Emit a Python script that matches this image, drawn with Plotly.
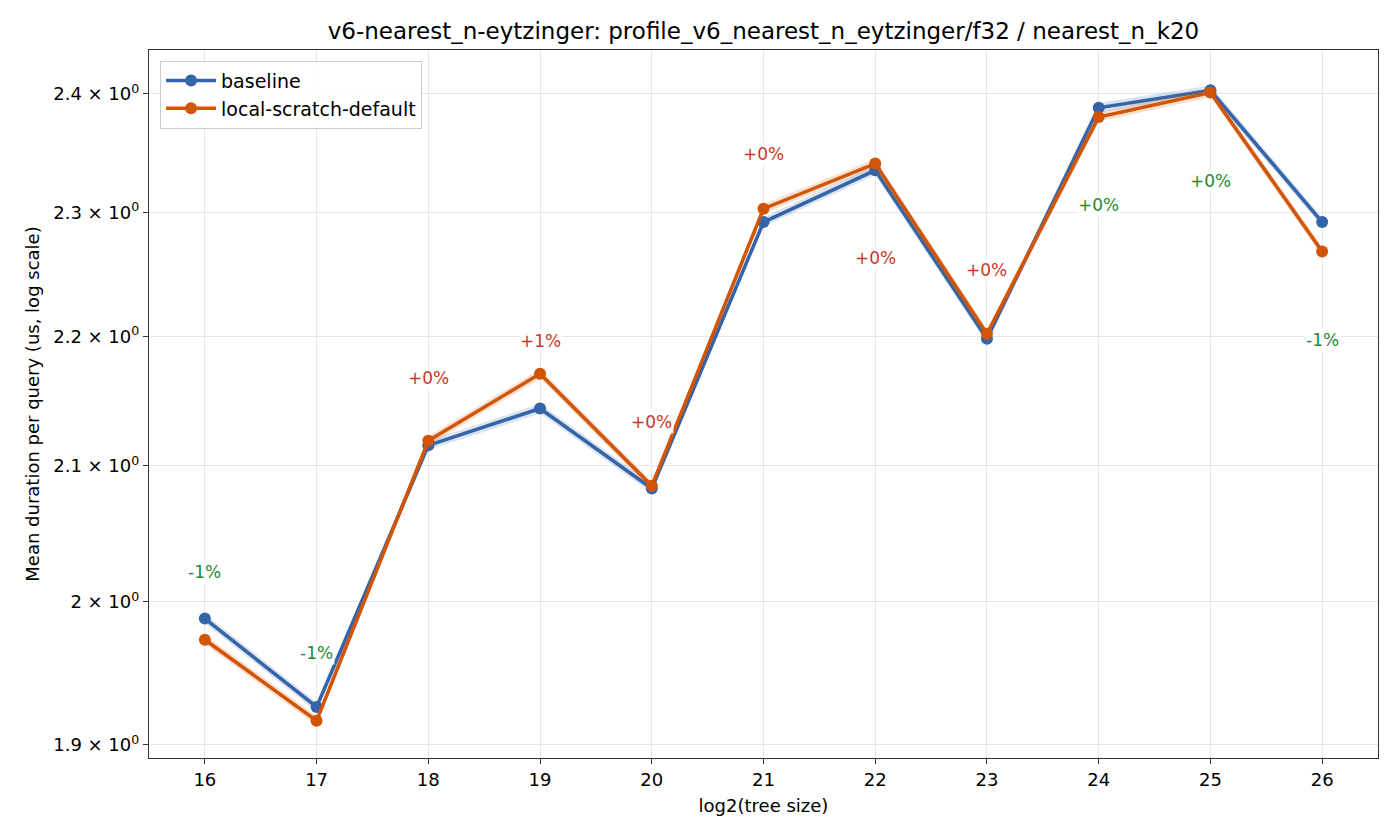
import math
import plotly.graph_objects as go

sizes = [16, 17, 18, 19, 20, 21, 22, 23, 24, 25, 26]
baseline = [1.988, 1.926, 2.1155, 2.1437, 2.083, 2.292, 2.335, 2.198, 2.388, 2.403, 2.292]
local = [1.973, 1.9165, 2.119, 2.1706, 2.085, 2.303, 2.3406, 2.202, 2.380, 2.401, 2.268]
band_frac = 0.0017
labels = ["-1%", "-1%", "+0%", "+1%", "+0%", "+0%", "+0%", "+0%", "+0%", "+0%", "-1%"]
label_colors = ["#1f8a35", "#1f8a35", "#c9362a", "#c9362a", "#c9362a", "#c9362a",
                "#c9362a", "#c9362a", "#1f8a35", "#1f8a35", "#1f8a35"]
label_y = [2.0217, 1.9633, 2.1676, 2.1966, 2.1337, 2.349, 2.263, 2.253, 2.3065, 2.326, 2.197]
ytick_vals = [1.9, 2.0, 2.1, 2.2, 2.3, 2.4]
ytick_text = ["1.9 × 10<sup>0</sup>", "2 × 10<sup>0</sup>", "2.1 × 10<sup>0</sup>",
              "2.2 × 10<sup>0</sup>", "2.3 × 10<sup>0</sup>", "2.4 × 10<sup>0</sup>"]

BLUE = "#3465a9"
ORANGE = "#d25405"

fig = go.Figure()

for name, vals, col, fillcol in [("baseline", baseline, BLUE, "rgba(52,101,169,0.18)"),
                                  ("local-scratch-default", local, ORANGE, "rgba(210,84,5,0.18)")]:
    lo = [v * (1 - band_frac) for v in vals]
    hi = [v * (1 + band_frac) for v in vals]
    fig.add_trace(go.Scatter(x=sizes, y=lo, mode="lines", line=dict(width=0, color=fillcol),
                             showlegend=False, hoverinfo="skip"))
    fig.add_trace(go.Scatter(x=sizes, y=hi, mode="lines", line=dict(width=0, color=fillcol),
                             fill="tonexty", fillcolor=fillcol, showlegend=False, hoverinfo="skip"))
    fig.add_trace(go.Scatter(x=sizes, y=vals, mode="lines+markers", name=name,
                             line=dict(color=col, width=3.5),
                             marker=dict(color=col, size=12)))

for x, t, c, y in zip(sizes, labels, label_colors, label_y):
    fig.add_annotation(x=x, y=math.log10(y), text=t, showarrow=False,
                       font=dict(color=c, size=17, family="DejaVu Sans"),
                       bgcolor="rgba(255,255,255,0.8)", borderpad=1)

fig.update_layout(
    width=1400, height=840,
    margin=dict(l=149, r=22, t=50, b=82),
    paper_bgcolor="white", plot_bgcolor="white",
    font=dict(family="DejaVu Sans", size=18, color="black"),
    title=dict(text="v6-nearest_n-eytzinger: profile_v6_nearest_n_eytzinger/f32 / nearest_n_k20",
               x=0.5, xref="paper", xanchor="center", y=0.963, yanchor="middle",
               font=dict(size=23, color="black")),
    legend=dict(x=0.009, y=0.985, xanchor="left", yanchor="top", traceorder="normal",
                bgcolor="rgba(255,255,255,0.9)", bordercolor="#cccccc", borderwidth=1,
                itemwidth=50, font=dict(size=19)),
    xaxis=dict(range=[15.5, 26.5], tickvals=sizes, ticktext=[str(s) for s in sizes],
               showgrid=True, gridcolor="#e6e6e6", gridwidth=1,
               showline=True, linecolor="#333333", linewidth=1.2, mirror=True,
               ticks="outside", ticklen=5, tickcolor="#333333",
               tickfont=dict(size=18),
               title=dict(text="log2(tree size)", font=dict(size=18), standoff=10),
               zeroline=False),
    yaxis=dict(type="log", range=[math.log10(1.891), math.log10(2.438)],
               tickvals=ytick_vals, ticktext=ytick_text,
               showgrid=True, gridcolor="#e6e6e6", gridwidth=1,
               showline=True, linecolor="#333333", linewidth=1.2, mirror=True,
               ticks="outside", ticklen=5, tickcolor="#333333",
               tickfont=dict(size=18),
               title=dict(text="Mean duration per query (us, log scale)", font=dict(size=18), standoff=8),
               zeroline=False),
)

fig.write_html("out.html")
